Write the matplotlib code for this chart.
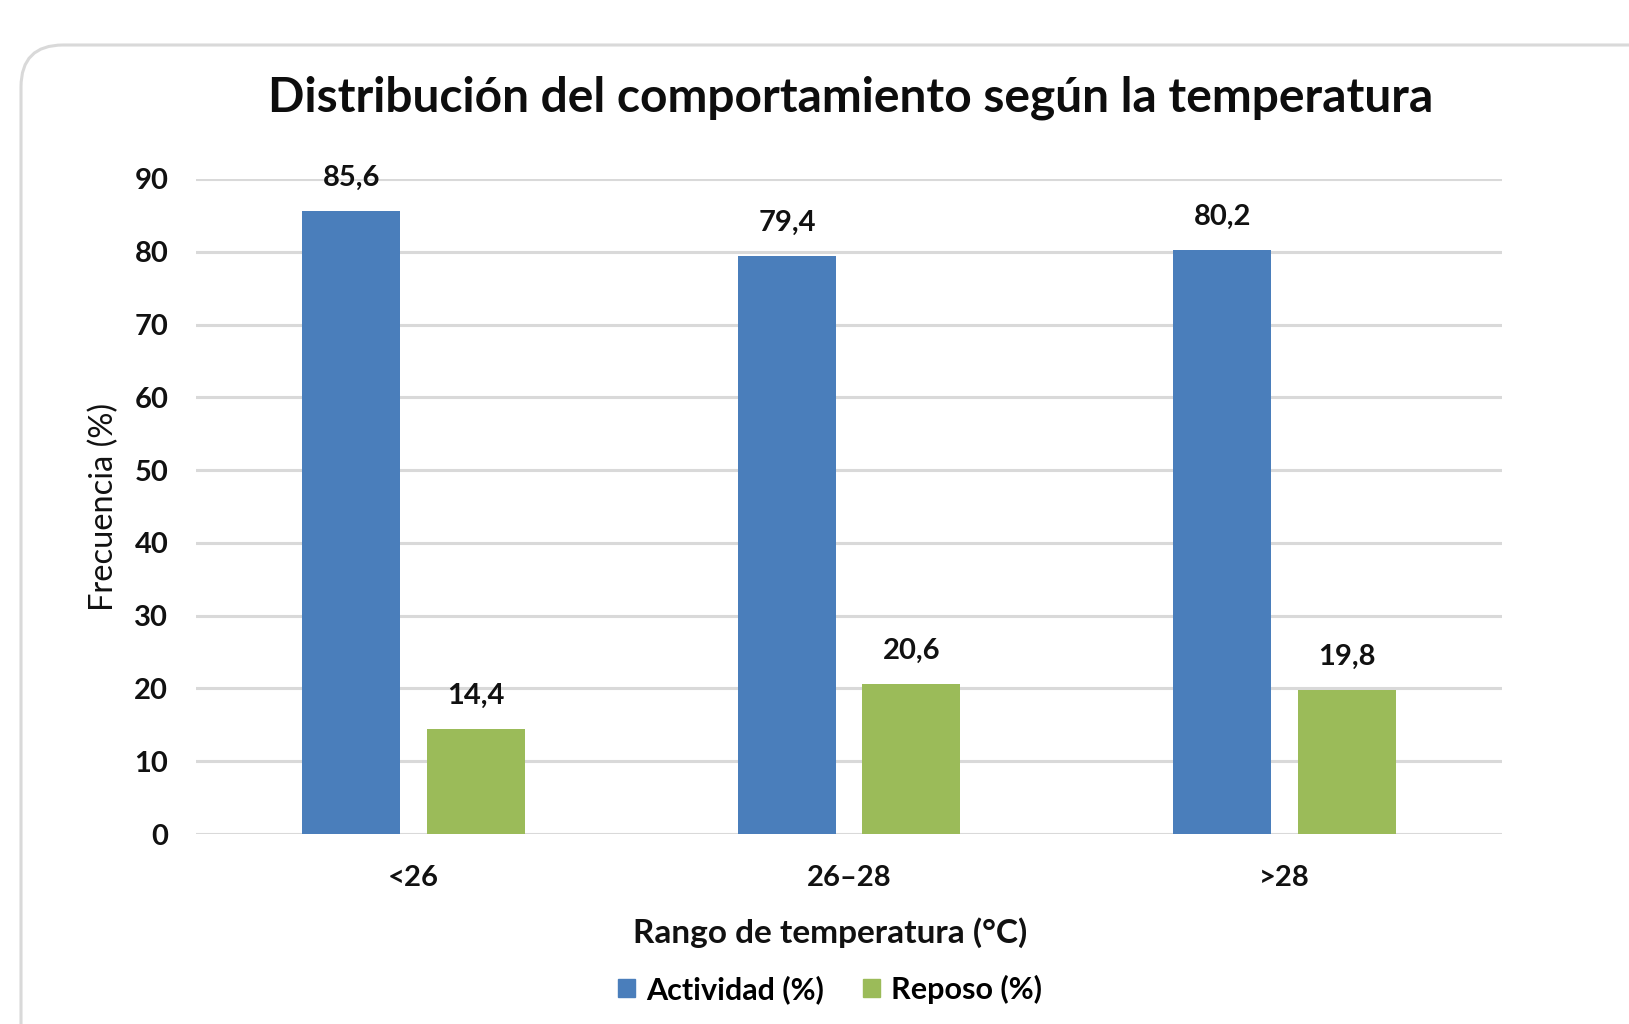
import matplotlib
matplotlib.use("Agg")
import matplotlib.pyplot as plt
import numpy as np
from matplotlib.patches import FancyBboxPatch, Patch
from matplotlib.transforms import IdentityTransform

plt.rcParams['font.family'] = ['Lato', 'DejaVu Sans']

categorias = ["<26", "26–28", ">28"]
actividad = [85.6, 79.4, 80.2]
reposo = [14.4, 20.6, 19.8]

azul = "#4A7EBB"
verde = "#9BBB59"

fig = plt.figure(figsize=(16.29, 10.24), dpi=100)
ax = fig.add_axes([0.1203, 0.1855, 0.802, 0.6397])

x = np.arange(len(categorias))
w = 0.225
b1 = ax.bar(x - 0.143, actividad, w, color=azul, label="Actividad (%)", zorder=3)
b2 = ax.bar(x + 0.143, reposo, w, color=verde, label="Reposo (%)", zorder=3)

for bars, vals in ((b1, actividad), (b2, reposo)):
    for r, v in zip(bars, vals):
        ax.annotate(f"{v:.1f}".replace(".", ","),
                    (r.get_x() + r.get_width() / 2, v),
                    xytext=(0, 24), textcoords="offset points",
                    ha="center", va="center", fontsize=21, fontweight="bold", color="#111111")

ax.set_xlim(-0.5, 2.5)
ax.set_ylim(0, 90)
ax.set_yticks(range(0, 91, 10))
ax.set_xticks(x)
ax.set_xticklabels(categorias)
ax.yaxis.grid(True, color="#d9d9d9", linewidth=2.2, zorder=0)
ax.set_axisbelow(True)
for s in ax.spines.values():
    s.set_visible(False)
ax.tick_params(axis="both", length=0, labelsize=21, colors="#111111")
ax.tick_params(axis="y", pad=20)
ax.tick_params(axis="x", pad=22)
for lab in ax.get_xticklabels() + ax.get_yticklabels():
    lab.set_fontweight("bold")

ax.set_ylabel("Frecuencia (%)", fontsize=23.5, color="#111111", labelpad=11)

fig.text(0.5223, 0.905, "Distribución del comportamiento según la temperatura",
         ha="center", va="center", fontsize=34.5, fontweight="bold", color="#0d0d0d")
fig.text(0.5095, 0.0889, "Rango de temperatura (°C)",
         ha="center", va="center", fontsize=24, fontweight="bold", color="#111111")

handles = [Patch(color=azul), Patch(color=verde)]
leg = fig.legend(handles, ["Actividad (%)", "Reposo (%)"], loc="center",
                 bbox_to_anchor=(0.5095, 0.034), ncol=2, frameon=False,
                 prop={"size": 22, "weight": "bold"}, handlelength=0.55, handleheight=0.55,
                 handletextpad=0.35, columnspacing=1.3)

borde = FancyBboxPatch((21, -80), 1700, 979 + 80, boxstyle="round,pad=0,rounding_size=42",
                       transform=IdentityTransform(), fill=False, edgecolor="#d9d9d9",
                       linewidth=2.2)
fig.patches.append(borde)

fig.savefig("out.png", dpi=100)
